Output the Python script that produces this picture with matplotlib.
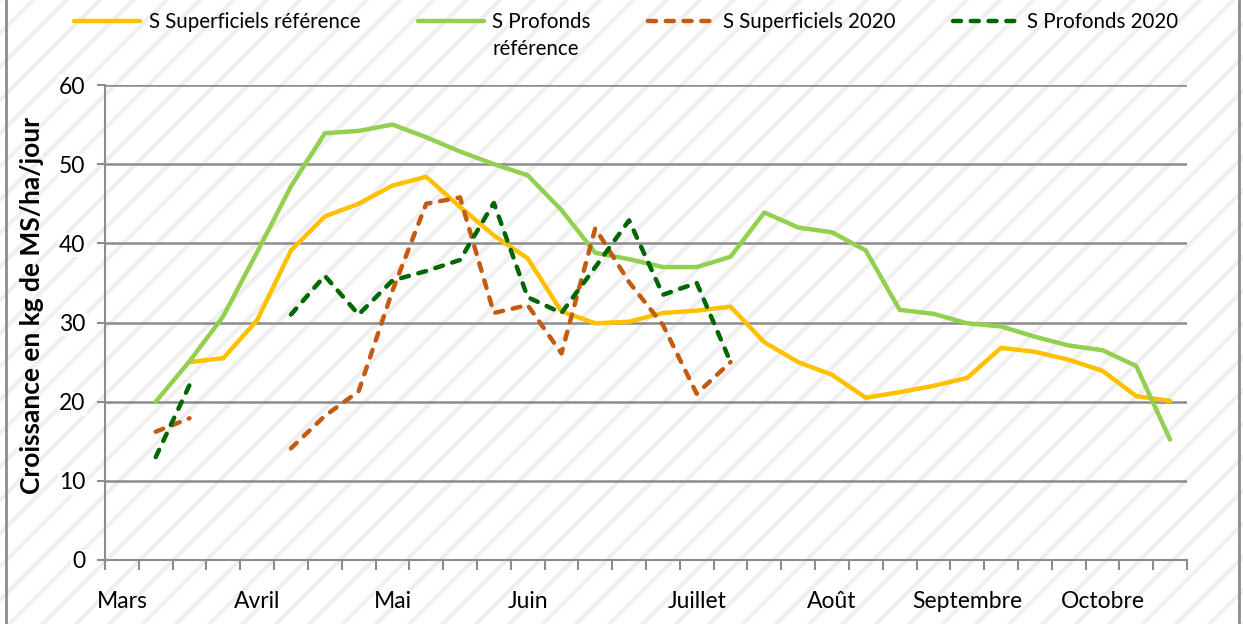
import numpy as np
import matplotlib
matplotlib.use("Agg")
import matplotlib.pyplot as plt
from matplotlib.patches import Rectangle
from matplotlib.lines import Line2D

plt.rcParams['font.family'] = ['Lato', 'DejaVu Sans']
plt.rcParams['hatch.color'] = '#efefef'
plt.rcParams['hatch.linewidth'] = 3.0

nan = np.nan

# weekly categories, month name on the first week of each month
mois = ['Mars', '', '', '', 'Avril', '', '', '', 'Mai', '', '', '', 'Juin', '', '', '', '',
        'Juillet', '', '', '', 'Août', '', '', '', 'Septembre', '', '', '', 'Octobre', '', '']

sup_ref = [nan, nan, 25.0, 25.5, 30.3, 39.1, 43.4, 45.0, 47.3, 48.4, 44.6, 41.0, 38.1, 31.4,
           29.9, 30.1, 31.2, 31.5, 32.0, 27.5, 25.0, 23.4, 20.5, 21.2, 22.0, 23.0, 26.8, 26.3,
           25.3, 23.9, 20.7, 20.1]
prof_ref = [nan, 20.0, 25.1, 30.8, 38.9, 47.2, 53.9, 54.2, 55.0, 53.4, 51.6, 50.0, 48.6, 44.2,
            38.8, 38.0, 37.0, 37.0, 38.3, 43.9, 42.0, 41.4, 39.1, 31.6, 31.1, 29.9, 29.5, 28.2,
            27.1, 26.5, 24.5, 15.2]
sup_2020 = [nan, 16.2, 17.9, nan, nan, 14.1, 18.2, 21.3, 34.0, 45.0, 45.8, 31.2, 32.2, 26.1,
            41.9, 35.1, 29.7, 21.0, 25.0] + [nan] * 13
prof_2020 = [nan, 13.0, 22.1, nan, nan, 31.0, 35.9, 31.0, 35.3, 36.5, 37.9, 45.1, 33.2, 31.2,
             37.0, 42.9, 33.5, 35.0, 25.0] + [nan] * 13

fig = plt.figure(figsize=(12.43, 6.24), dpi=100)
fig.patch.set_facecolor('white')

# striped background + side borders
fig.patches.append(Rectangle((0, 0), 1, 1, transform=fig.transFigure, facecolor='white',
                             edgecolor='#efefef', hatch='/', linewidth=0, zorder=-10))
fig.add_artist(Line2D([0.0045, 0.0045], [0, 1], color='#8c8c8c', lw=2, transform=fig.transFigure))
fig.add_artist(Line2D([0.997, 0.997], [0, 1], color='#8c8c8c', lw=2, transform=fig.transFigure))

ax = fig.add_axes([105 / 1243, 64 / 624, 1082 / 1243, 475 / 624])
ax.patch.set_alpha(0)

dash = (0, (1.8, 2.2))
x = np.arange(len(mois))
ax.plot(x, sup_ref, color='#ffc000', lw=3.2, solid_capstyle='round', label='S Superficiels référence', zorder=3)
ax.plot(x, prof_ref, color='#92d050', lw=3.2, solid_capstyle='round', label='S Profonds', zorder=3)
ax.plot(x, sup_2020, color='#c55a11', lw=3.2, ls=dash, dash_capstyle='round',
        label='S Superficiels 2020', zorder=4)
ax.plot(x, prof_2020, color='#006600', lw=3.2, ls=dash, dash_capstyle='round',
        label='S Profonds 2020', zorder=4)

ax.set_xlim(-0.5, len(mois) - 0.5)
ax.set_ylim(0, 60)
ax.set_yticks(range(0, 61, 10))
ax.yaxis.grid(True, color='#8c8c8c', lw=1.8)
ax.set_axisbelow(True)

ax.set_xticks(np.arange(-0.5, len(mois), 1))
ax.set_xticklabels([])
ax.set_xticks(x, minor=True)
ax.set_xticklabels(mois, minor=True, fontsize=16.5)
ax.tick_params(axis='x', which='major', length=7, width=1.5, color='#8c8c8c', direction='out')
ax.tick_params(axis='x', which='minor', length=0, pad=22)
ax.tick_params(axis='y', length=6, width=1.5, color='#8c8c8c', labelsize=16.5, pad=8)
for lab in ax.get_yticklabels():
    lab.set_bbox(dict(facecolor='white', edgecolor='none', pad=1))
for s in ['top', 'right']:
    ax.spines[s].set_visible(False)
for s in ['left', 'bottom']:
    ax.spines[s].set_color('#8c8c8c')
    ax.spines[s].set_linewidth(1.5)

ax.set_ylabel('Croissance en kg de MS/ha/jour', fontsize=19, fontweight='bold')
ax.yaxis.set_label_coords(-0.056, 0.535)

leg = fig.legend(loc='upper left', bbox_to_anchor=(62 / 1243, 1.0), ncol=4, frameon=False,
                 fontsize=14.8, handlelength=3.2, handletextpad=0.42, columnspacing=2.8,
                 borderaxespad=0.2)
fig.canvas.draw()
t = leg.get_texts()[1]
bb = t.get_window_extent()
fig.text(bb.x0, bb.y0 - 7, 'référence', fontsize=14.8, ha='left', va='top', transform=None)

fig.savefig('out.png', dpi=100)
